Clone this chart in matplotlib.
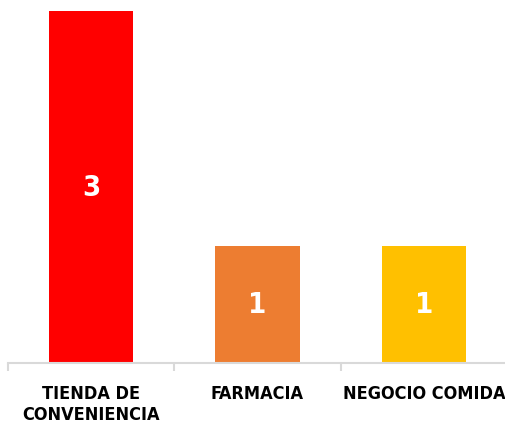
import matplotlib
matplotlib.use("Agg")
import matplotlib.pyplot as plt

categories = ["TIENDA DE\nCONVENIENCIA", "FARMACIA", "NEGOCIO COMIDA"]
values = [3, 1, 1]
colors = ["#FF0000", "#ED7D31", "#FFC000"]

fam = ["DejaVu Sans"]

fig = plt.figure(figsize=(5.06, 4.27), dpi=100)
ax = fig.add_axes([8/506, 63/427, 499/506, 352/427])
x = range(len(categories))
bars = ax.bar(x, values, width=0.506, color=colors)
ax.set_xlim(-0.5, 2.5)
ax.set_ylim(0, 3)
for s in ["top", "right", "left"]:
    ax.spines[s].set_visible(False)
ax.spines["bottom"].set_color("#D9D9D9")
ax.spines["bottom"].set_linewidth(1.5)
ax.set_yticks([])
ax.set_xticks([-0.5, 0.5, 1.5, 2.5], minor=False)
ax.set_xticklabels([])
ax.tick_params(axis="x", which="major", length=6, color="#D9D9D9", width=1.5)
ax.set_xticks(list(x), minor=True)
ax.set_xticklabels(categories, minor=True, fontsize=13, fontweight="bold",
                   fontstretch="condensed", family=fam, linespacing=1.25)
ax.tick_params(axis="x", which="minor", length=0, pad=15)
for xi, v in zip(x, values):
    ax.text(xi, v / 2, str(v), ha="center", va="center", color="white",
            fontsize=21, fontweight="bold", fontstretch="condensed", family=fam)
fig.savefig("out.png", dpi=100)
